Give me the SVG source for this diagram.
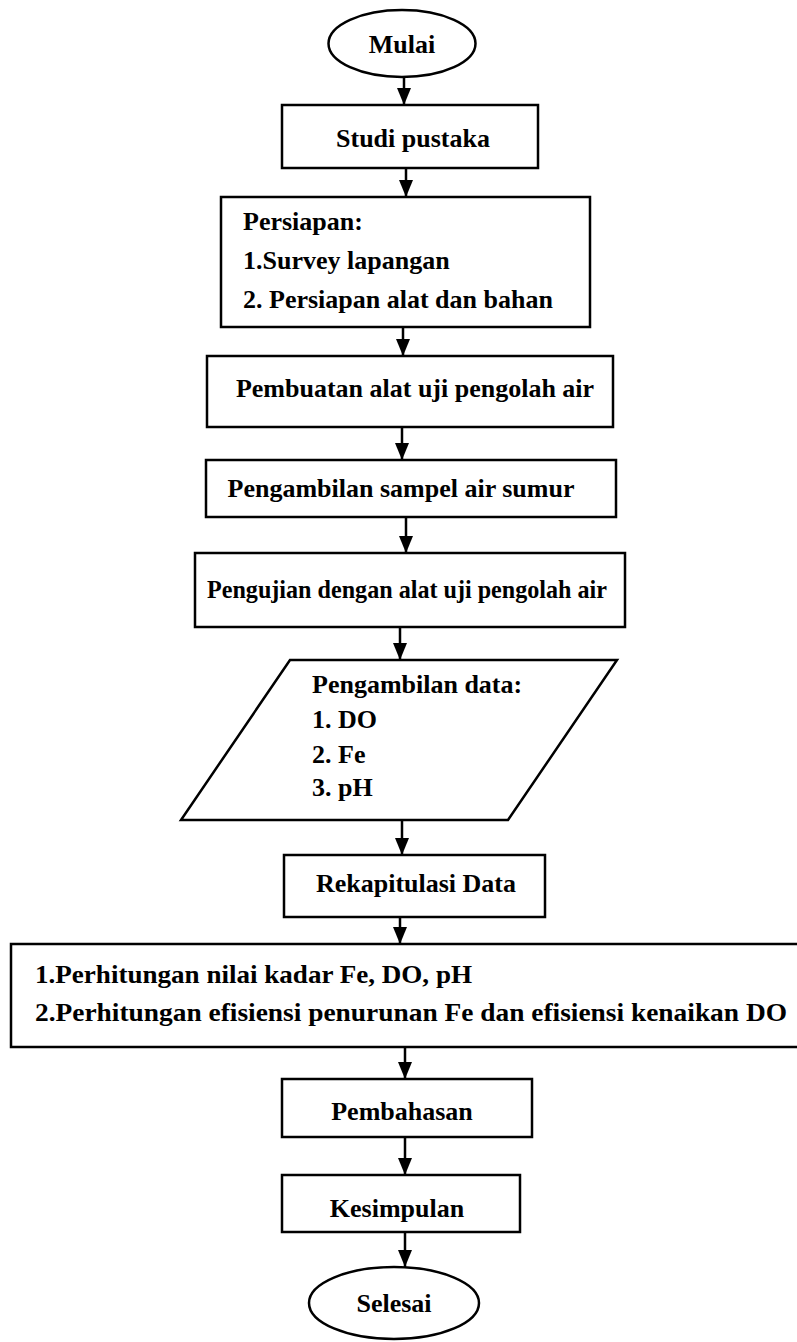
<svg xmlns="http://www.w3.org/2000/svg" width="797" height="1342" viewBox="0 0 797 1342">
<style>
.s{fill:#fff;stroke:#000;stroke-width:2.5}
.t{font-family:"Liberation Serif","Times New Roman",serif;font-size:26px;font-weight:bold;fill:#000}
.c{text-anchor:middle}
.e{stroke:#000;stroke-width:2.5;fill:none}
</style>
<defs>
<marker id="ah" markerUnits="userSpaceOnUse" markerWidth="17" markerHeight="14" refX="17" refY="7" orient="auto" viewBox="0 0 17 14">
<path d="M0,0 L17,7 L0,14 Z" fill="#000"/>
</marker>
</defs>
<rect width="797" height="1342" fill="#fff"/>
<g id="connectors">
<line class="e" x1="404" y1="77" x2="404" y2="105" marker-end="url(#ah)"/>
<line class="e" x1="406" y1="168" x2="406" y2="197" marker-end="url(#ah)"/>
<line class="e" x1="403" y1="327" x2="403" y2="356" marker-end="url(#ah)"/>
<line class="e" x1="402" y1="427" x2="402" y2="460" marker-end="url(#ah)"/>
<line class="e" x1="406" y1="517" x2="406" y2="553" marker-end="url(#ah)"/>
<line class="e" x1="400" y1="627" x2="400" y2="660" marker-end="url(#ah)"/>
<line class="e" x1="402" y1="820" x2="402" y2="855" marker-end="url(#ah)"/>
<line class="e" x1="400" y1="917" x2="400" y2="944" marker-end="url(#ah)"/>
<line class="e" x1="405" y1="1047" x2="405" y2="1079" marker-end="url(#ah)"/>
<line class="e" x1="405" y1="1137" x2="405" y2="1175" marker-end="url(#ah)"/>
<line class="e" x1="405" y1="1232" x2="405" y2="1267" marker-end="url(#ah)"/>
</g>
<g id="mulai">
<ellipse class="s" cx="402" cy="43.5" rx="73.5" ry="33.5"/>
<text class="t c" x="402" y="53">Mulai</text>
</g>
<g id="studi">
<rect class="s" x="282" y="105" width="256" height="63"/>
<text class="t c" x="413" y="147">Studi pustaka</text>
</g>
<g id="persiapan">
<rect class="s" x="221" y="197" width="369" height="130"/>
<text class="t" x="243" y="230">Persiapan:</text>
<text class="t" x="243" y="269">1.Survey lapangan</text>
<text class="t" x="243" y="308">2. Persiapan alat dan bahan</text>
</g>
<g id="pembuatan">
<rect class="s" x="207" y="356" width="406" height="71"/>
<text class="t c" x="415" y="397">Pembuatan alat uji pengolah air</text>
</g>
<g id="pengambilan-sampel">
<rect class="s" x="206" y="460" width="410" height="57"/>
<text class="t c" x="401" y="497">Pengambilan sampel air sumur</text>
</g>
<g id="pengujian">
<rect class="s" x="195" y="553" width="430" height="74"/>
<text class="t" x="207" y="598" textLength="400" lengthAdjust="spacingAndGlyphs">Pengujian dengan alat uji pengolah air</text>
</g>
<g id="pengambilan-data">
<polygon class="s" points="290,660 617,660 508,820 181,820"/>
<text class="t" x="312" y="693">Pengambilan data:</text>
<text class="t" x="312" y="728">1. DO</text>
<text class="t" x="312" y="763">2. Fe</text>
<text class="t" x="312" y="796">3. pH</text>
</g>
<g id="rekapitulasi">
<rect class="s" x="284" y="855" width="261" height="62"/>
<text class="t c" x="416" y="892">Rekapitulasi Data</text>
</g>
<g id="perhitungan">
<rect class="s" x="11" y="944" width="800" height="103"/>
<text class="t" x="35" y="983" textLength="437" lengthAdjust="spacingAndGlyphs">1.Perhitungan nilai kadar Fe, DO, pH</text>
<text class="t" x="35" y="1021" textLength="752" lengthAdjust="spacingAndGlyphs">2.Perhitungan efisiensi penurunan Fe dan efisiensi kenaikan DO</text>
</g>
<g id="pembahasan">
<rect class="s" x="282" y="1079" width="250" height="58"/>
<text class="t c" x="402" y="1120">Pembahasan</text>
</g>
<g id="kesimpulan">
<rect class="s" x="282" y="1175" width="238" height="57"/>
<text class="t c" x="397" y="1217">Kesimpulan</text>
</g>
<g id="selesai">
<ellipse class="s" cx="394" cy="1303" rx="85" ry="36"/>
<text class="t c" x="394" y="1312">Selesai</text>
</g>
</svg>
